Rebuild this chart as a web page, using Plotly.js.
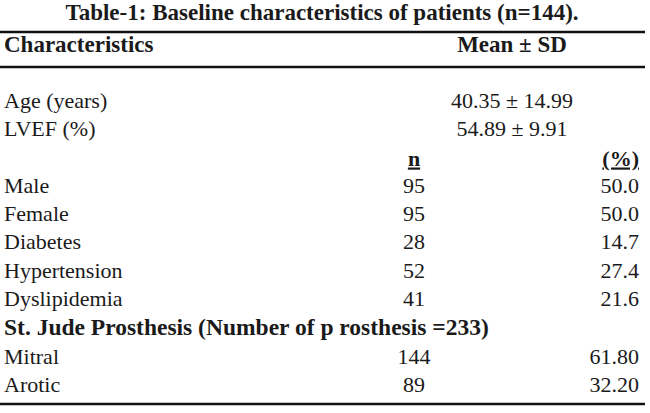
<!DOCTYPE html>
<html><head><meta charset="utf-8">
<script src="https://cdn.plot.ly/plotly-3.0.1.min.js"></script>
<style>html,body{margin:0;padding:0;background:#fff;}#chart{width:650px;height:413px;}</style>
</head><body><div id="chart"></div>
<script>
// ---- data ----
const tableTitle = "Table-1: Baseline characteristics of patients (n=144).";
const headerLeft = "Characteristics";
const headerRight = "Mean ± SD";
const meanLabels = ["Age (years)", "LVEF (%)"];
const meanValues = ["40.35 ± 14.99", "54.89 ± 9.91"];
const countHeaderN = "n";
const countHeaderPct = "(%)";
const countLabels = ["Male", "Female", "Diabetes", "Hypertension", "Dyslipidemia"];
const countN = [95, 95, 28, 52, 41];
const countPct = ["50.0", "50.0", "14.7", "27.4", "21.6"];
const sectionTitle = "St. Jude Prosthesis (Number of p rosthesis =233)";
const prosLabels = ["Mitral", "Arotic"];
const prosN = [144, 89];
const prosPct = ["61.80", "32.20"];

// ---- layout constants ----
const W = 650, H = 413;
const xLabel = 4, xMean = 512, xN = 414, xPct = 639;
const yTitle = 14, yHeader = 46;
const yMean = [102, 130];
const yCountHdr = 160;
const yCount = [187, 215, 243, 272, 300];
const ySection = 329;
const yPros = [358, 386];
const fam = "'Liberation Serif', 'Times New Roman', serif";
const col = "#1a1a1a";
const bodySize = 22, boldSize = 22;

const traces = [];
function txt(xs, ys, texts, pos, size) {
  traces.push({type: "scatter", mode: "text", x: xs, y: ys, text: texts,
    textposition: pos, textfont: {family: fam, size: size, color: col},
    hoverinfo: "skip", showlegend: false, cliponaxis: false});
}
txt([322], [yTitle], ["<b>" + tableTitle + "</b>"], "middle center", 23);
txt([xLabel], [yHeader], ["<b>" + headerLeft + "</b>"], "middle right", 23);
txt([xMean], [yHeader], ["<b>" + headerRight + "</b>"], "middle center", 23);
txt(meanLabels.map(() => xLabel), yMean, meanLabels, "middle right", bodySize);
txt(meanValues.map(() => xMean), yMean, meanValues, "middle center", bodySize);
txt([xN], [yCountHdr], ["<b><u>" + countHeaderN + "</u></b>"], "middle center", boldSize);
txt([xPct], [yCountHdr], ["<b><u>" + countHeaderPct + "</u></b>"], "middle left", boldSize);
txt(countLabels.map(() => xLabel), yCount, countLabels, "middle right", bodySize);
txt(countN.map(() => xN), yCount, countN.map(String), "middle center", bodySize);
txt(countPct.map(() => xPct), yCount, countPct, "middle left", bodySize);
txt([xLabel], [ySection], ["<b>" + sectionTitle + "</b>"], "middle right", 23.5);
txt(prosLabels.map(() => xLabel), yPros, prosLabels, "middle right", bodySize);
txt(prosN.map(() => xN), yPros, prosN.map(String), "middle center", bodySize);
txt(prosPct.map(() => xPct), yPros, prosPct, "middle left", bodySize);

function hline(y, w) {
  return {type: "line", xref: "x", yref: "y", x0: 0, x1: 645, y0: y, y1: y,
    line: {color: "#111", width: w}};
}
const layout = {
  width: W, height: H, margin: {l: 0, r: 0, t: 0, b: 0},
  paper_bgcolor: "#fff", plot_bgcolor: "#fff",
  xaxis: {range: [0, W], visible: false, fixedrange: true},
  yaxis: {range: [H, 0], visible: false, fixedrange: true},
  shapes: [hline(32, 2.5), hline(67, 2.5), hline(404, 2.5)],
  showlegend: false
};
Plotly.newPlot("chart", traces, layout, {displayModeBar: false, staticPlot: true});
</script></body></html>
